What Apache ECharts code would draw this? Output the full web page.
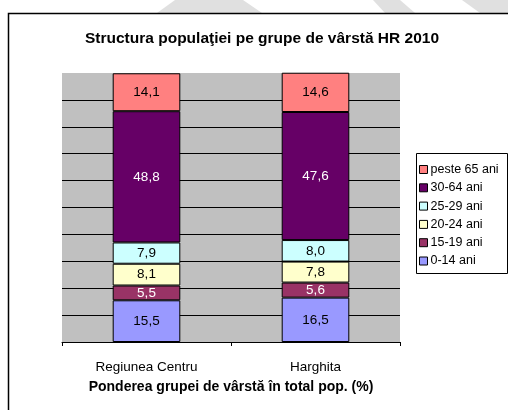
<!DOCTYPE html>
<html>
<head>
<meta charset="utf-8">
<script src="https://cdn.jsdelivr.net/npm/echarts@6/dist/echarts.min.js"></script>
<style>html,body{margin:0;padding:0;background:#fff}#c{width:508px;height:410px}</style>
</head>
<body>
<div id="c"></div>
<script>
var categories = ['Regiunea Centru', 'Harghita'];
var seriesNames = ['0-14 ani', '15-19 ani', '20-24 ani', '25-29 ani', '30-64 ani', 'peste 65 ani'];
var v0_14 = [15.5, 16.5];
var v15_19 = [5.5, 5.6];
var v20_24 = [8.1, 7.8];
var v25_29 = [7.9, 8.0];
var v30_64 = [48.8, 47.6];
var vPeste65 = [14.1, 14.6];
var seriesValues = [v0_14, v15_19, v20_24, v25_29, v30_64, vPeste65];
var colors = ['#9999FF', '#993366', '#FFFFCC', '#CCFFFF', '#660066', '#FF8080'];
var labelColors = ['#000', '#fff', '#000', '#000', '#fff', '#000'];
var FONT = 'Liberation Sans, Arial, sans-serif';

var chart = echarts.init(document.getElementById('c'), null, {renderer: 'canvas'});
var series = seriesNames.map(function (n, i) {
  return {
    name: n, type: 'bar', stack: 'a', barWidth: '40%',
    data: seriesValues[i],
    itemStyle: {color: colors[i], borderColor: '#000', borderWidth: 1},
    label: {
      show: true, position: 'inside', fontFamily: FONT, fontSize: 13.5,
      color: labelColors[i],
      formatter: function (p) { return p.value.toFixed(1).replace('.', ','); }
    },
    emphasis: {disabled: true}
  };
});
chart.setOption({
  animation: false,
  backgroundColor: '#fff',
  graphic: [
    {type: 'polygon', shape: {points: [[175,0],[243,0],[262,13],[157,13]]}, style: {fill: '#e0e0e0'}, z: -10},
    {type: 'polygon', shape: {points: [[373,0],[400,0],[415,13],[385,13]]}, style: {fill: '#e0e0e0'}, z: -10},
    {type: 'polygon', shape: {points: [[462,0],[508,0],[508,13],[480,13]]}, style: {fill: '#e0e0e0'}, z: -10},
    {type: 'rect', shape: {x: 8.5, y: 13.5, width: 600, height: 500}, style: {fill: 'none', stroke: '#000', lineWidth: 1.5}, z: -5},
    {type: 'text', x: 262, y: 39, style: {text: 'Structura populaţiei pe grupe de vârstă HR 2010', font: 'bold 15.5px ' + FONT, fill: '#000', textAlign: 'center', textVerticalAlign: 'middle'}},
    {type: 'rect', shape: {x: 416.5, y: 153.5, width: 91, height: 120}, style: {fill: '#fff', stroke: '#000', lineWidth: 1}, z: -1}
  ],
  legend: {
    orient: 'vertical', left: 414, top: 158,
    data: seriesNames.slice().reverse(),
    icon: 'rect', itemWidth: 8, itemHeight: 8, itemGap: 5.3,
    itemStyle: {borderColor: '#000', borderWidth: 1},
    textStyle: {fontFamily: FONT, fontSize: 12.5, color: '#000', lineHeight: 12, padding: [0, 0, 0, -2]},
    selectedMode: false
  },
  grid: {left: 62, right: 108, top: 73, bottom: 68, show: true, backgroundColor: '#C0C0C0', borderWidth: 0},
  xAxis: {
    type: 'category', data: categories,
    axisLine: {lineStyle: {color: '#000', width: 1}},
    axisTick: {show: true, length: 4, lineStyle: {color: '#000'}},
    axisLabel: {fontFamily: FONT, fontSize: 13.5, color: '#000', margin: 18},
    name: 'Ponderea grupei de vârstă în total pop. (%)',
    nameLocation: 'middle', nameGap: 38,
    nameTextStyle: {fontFamily: FONT, fontSize: 14, fontWeight: 'bold', color: '#000'}
  },
  yAxis: {
    type: 'value', min: 0, max: 100, interval: 10,
    axisLabel: {show: false}, axisLine: {show: false}, axisTick: {show: false},
    splitLine: {show: true, showMaxLine: false, lineStyle: {color: '#000', width: 1}}
  },
  series: series
});
</script>
</body>
</html>
